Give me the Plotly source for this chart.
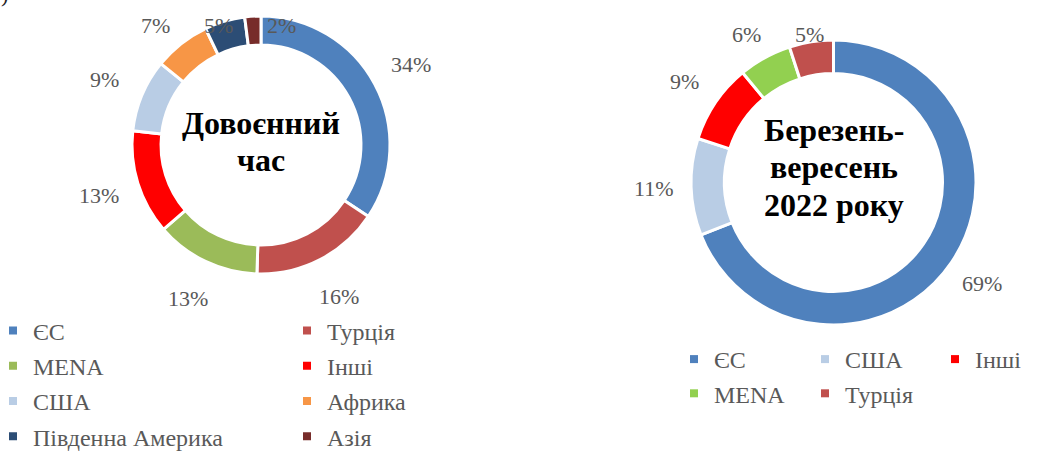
import numpy as np
import plotly.graph_objects as go

W, H = 1054, 451

# ---------------- data ----------------
prewar_labels = ["ЄС", "Турція", "MENA", "Інші", "США", "Африка", "Південна Америка", "Азія"]
prewar_values = [34, 16, 13, 13, 9, 7, 5, 2]

war_labels = ["ЄС", "США", "Інші", "MENA", "Турція"]
war_values = [69, 11, 9, 6, 5]

prewar_title = ["Довоєнний", "час"]
war_title = ["Березень-", "вересень", "2022 року"]

# ---------------- styles ----------------
prewar_colors = ["#4F81BD", "#C0504D", "#9BBB59", "#FF0000", "#B9CDE5", "#F79646", "#2C4D75", "#772C2A"]
war_colors = ["#4F81BD", "#B9CDE5", "#FF0000", "#92D050", "#C0504D"]

SERIF = "Liberation Serif, Times New Roman, serif"
GREY = "#595959"
LABEL_SIZE = 22
LEGEND_SIZE = 24
TITLE_SIZE = 32

# geometry (pixels): centre and outer radius of each ring
L_CX, L_CY, L_R = 261, 145, 129
R_CX, R_CY, R_R = 833.5, 182.5, 142.5


def px_domain(cx, cy, r):
    return dict(x=[(cx - r) / W, (cx + r) / W], y=[1 - (cy + r) / H, 1 - (cy - r) / H])


fig = go.Figure()

fig.add_trace(go.Pie(
    labels=prewar_labels, values=prewar_values, hole=0.775, sort=False,
    direction="clockwise", rotation=0, domain=px_domain(L_CX, L_CY, L_R),
    marker=dict(colors=prewar_colors, line=dict(color="white", width=3)),
    textinfo="none", showlegend=False, hoverinfo="label+value",
))
fig.add_trace(go.Pie(
    labels=war_labels, values=war_values, hole=0.765, sort=False,
    direction="clockwise", rotation=0, domain=px_domain(R_CX, R_CY, R_R),
    marker=dict(colors=war_colors, line=dict(color="white", width=3)),
    textinfo="none", showlegend=False, hoverinfo="label+value",
))

annotations = []


def ring_labels(values, cx, cy, radius, ymin, min_gap=63):
    vals = np.array(values, dtype=float)
    mids = (np.cumsum(vals) - vals / 2) / vals.sum() * 2 * np.pi
    xs = cx + radius * np.sin(mids)
    ys = cy - radius * np.cos(mids)
    clamped = ys < ymin
    ys = np.maximum(ys, ymin)
    # labels pushed against the top edge: keep them from overlapping
    idx = sorted(np.where(clamped)[0], key=lambda i: xs[i])
    for a, b in zip(idx[:-1], idx[1:]):
        xs[b] = max(xs[b], xs[a] + min_gap)
    for v, x, y in zip(values, xs, ys):
        annotations.append(dict(
            x=x / W, y=1 - y / H, xref="paper", yref="paper", text=f"{v}%",
            showarrow=False, xanchor="center", yanchor="middle",
            font=dict(family=SERIF, size=LABEL_SIZE, color=GREY),
        ))


ring_labels(prewar_values, L_CX, L_CY, 170, 26)
ring_labels(war_values, R_CX, R_CY, 180, 34)


def centre_text(lines, cx, cy, shift, step=37.5):
    n = len(lines)
    for i, line in enumerate(lines):
        y = cy + shift + (i - (n - 1) / 2) * step
        annotations.append(dict(
            x=cx / W, y=1 - y / H, xref="paper", yref="paper",
            text=f"<b>{line}</b>", showarrow=False, xanchor="center", yanchor="middle",
            font=dict(family=SERIF, size=TITLE_SIZE, color="black"),
        ))


centre_text(prewar_title, L_CX, L_CY, -3.5)
centre_text(war_title, R_CX, R_CY, -15)

# stray cut-off glyph in the upper-left corner of the source
annotations.append(dict(x=4 / W, y=1 + 6 / H, xref="paper", yref="paper", text=")",
                        showarrow=False, xanchor="center", yanchor="middle",
                        font=dict(family=SERIF, size=22, color="#222222")))

# ---------------- legends (square markers) ----------------
legend_cols = {
    "legend": ([0, 2, 4, 6], prewar_labels, prewar_colors),
    "legend2": ([1, 3, 5, 7], prewar_labels, prewar_colors),
    "legend3": ([0, 3], war_labels, war_colors),
    "legend4": ([1, 4], war_labels, war_colors),
    "legend5": ([2], war_labels, war_colors),
}
for lg, (idx, labs, cols) in legend_cols.items():
    for i in idx:
        fig.add_trace(go.Scatter(
            x=[None], y=[None], mode="markers", name=labs[i], legend=lg,
            legendgroup=f"{lg}-{i}",
            marker=dict(symbol="square", size=8, color=cols[i]),
            hoverinfo="skip",
        ))

legend_common = dict(
    font=dict(family=SERIF, size=LEGEND_SIZE, color=GREY),
    bgcolor="rgba(0,0,0,0)", borderwidth=0, orientation="v",
    traceorder="grouped", xanchor="left", yanchor="top",
)
L_TOP, R_TOP = 308.5, 337
fig.update_layout(
    legend=dict(x=-7 / W, y=1 - L_TOP / H, tracegroupgap=1, **legend_common),
    legend2=dict(x=287 / W, y=1 - L_TOP / H, tracegroupgap=1, **legend_common),
    legend3=dict(x=674 / W, y=1 - R_TOP / H, tracegroupgap=0, **legend_common),
    legend4=dict(x=805 / W, y=1 - R_TOP / H, tracegroupgap=0, **legend_common),
    legend5=dict(x=935 / W, y=1 - R_TOP / H, tracegroupgap=0, **legend_common),
)

fig.update_layout(
    width=W, height=H,
    margin=dict(l=0, r=0, t=0, b=0, autoexpand=False),
    paper_bgcolor="white", plot_bgcolor="white",
    xaxis=dict(visible=False), yaxis=dict(visible=False),
    annotations=annotations,
)

fig.write_html("out.html", config={"displayModeBar": False},
               post_script="document.body.style.margin='0px';")
